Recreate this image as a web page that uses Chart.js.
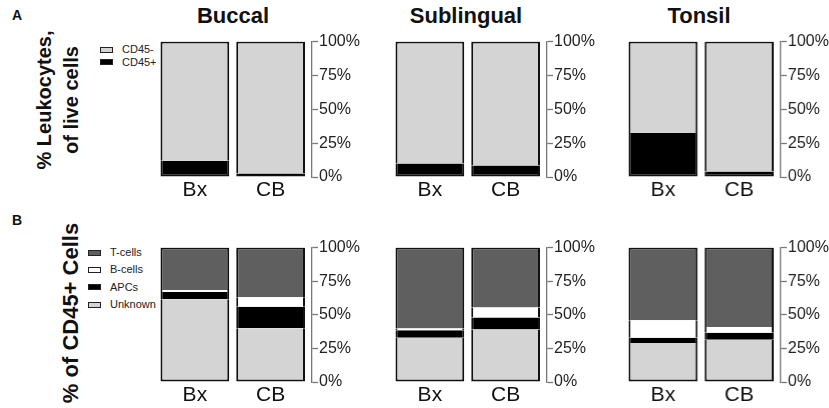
<!DOCTYPE html>
<html>
<head>
<meta charset="utf-8">
<script src="https://cdn.jsdelivr.net/npm/chart.js@4.4.0/dist/chart.umd.min.js"></script>
<style>
  html, body { margin: 0; padding: 0; background: #fff; }
  body { width: 829px; height: 408px; position: relative; overflow: hidden;
         font-family: "Liberation Sans", Arial, sans-serif; color: #111; }
  .abs { position: absolute; white-space: nowrap; }
  canvas { position: absolute; }
  .title { font-weight: bold; font-size: 22px; transform: translateX(-50%); }
  .panel { font-weight: bold; font-size: 14px; }
  .ytitle { font-weight: bold; text-align: center; transform: translate(-50%, -50%) rotate(-90deg); }
  .leg { font-size: 11px; line-height: 13px; display: flex; align-items: center; color: #222; }
  .leg .box { width: 11px; height: 4px; border: 1.5px solid #222; margin-right: 9px; }
</style>
</head>
<body>
<div class="abs panel" style="left:12px; top:7px;">A</div>
<div class="abs panel" style="left:12px; top:212px;">B</div>
<div id="titles"></div>
<div class="abs ytitle" style="left:58px; top:100px; font-size:20px; line-height:27px;">% Leukocytes,<br>of live cells</div>
<div class="abs ytitle" style="left:71px; top:313px; font-size:22px;">% of CD45+ Cells</div>
<div id="legendA"></div>
<div id="legendB"></div>
<script>
// ---- data ----
const categories = ['Bx', 'CB'];
const sites = ['Buccal', 'Sublingual', 'Tonsil'];
const yTicks = [0, 25, 50, 75, 100];
const seriesA = ['CD45-', 'CD45+'];
const seriesB = ['T-cells', 'B-cells', 'APCs', 'Unknown'];

// Panel A: % leukocytes of live cells
const buccalCD45pos = [12, 2.5];
const buccalCD45neg = [88, 97.5];
const sublingualCD45pos = [10, 8.5];
const sublingualCD45neg = [90, 91.5];
const tonsilCD45pos = [32.5, 4];
const tonsilCD45neg = [67.5, 96];

// Panel B: % of CD45+ cells
const buccalUnknown = [61.5, 40];
const buccalAPCs = [5.5, 16];
const buccalBcells = [1.5, 7];
const buccalTcells = [31.5, 37];
const sublingualUnknown = [33, 39];
const sublingualAPCs = [5.5, 9];
const sublingualBcells = [1.3, 7.5];
const sublingualTcells = [60.2, 44.5];
const tonsilUnknown = [29, 31.5];
const tonsilAPCs = [4, 5.2];
const tonsilBcells = [13, 4.3];
const tonsilTcells = [54, 59];

// ---- styles ----
const colA = { 'CD45-': '#d4d4d4', 'CD45+': '#000000' };
const colB = { 'T-cells': '#5f5f5f', 'B-cells': '#ffffff', 'APCs': '#000000', 'Unknown': '#d4d4d4' };
const colLefts = [156.5, 391.5, 625];
const rows = [{ top: 41, h: 136 }, { top: 247, h: 135 }];
const titleCenters = [233, 466, 699];
const AX_W = 52, GAP_W = 3.5, X_H = 28, PAD_T = 10, AREA_W = 152;

// titles
const titles = document.getElementById('titles');
sites.forEach((s, i) => {
  const d = document.createElement('div');
  d.className = 'abs title';
  d.style.left = titleCenters[i] + 'px';
  d.style.top = '3px';
  d.textContent = s;
  titles.appendChild(d);
});

// legends
function makeLegend(el, names, colors, x, ys) {
  names.forEach((n, i) => {
    const d = document.createElement('div');
    d.className = 'abs leg';
    d.style.left = x + 'px';
    d.style.top = (ys[i] - 6.5) + 'px';
    const b = document.createElement('span');
    b.className = 'box';
    b.style.background = colors[n];
    d.appendChild(b);
    d.appendChild(document.createTextNode(n));
    el.appendChild(d);
  });
}
makeLegend(document.getElementById('legendA'), seriesA, colA, 100, [49.5, 62]);
makeLegend(document.getElementById('legendB'), seriesB, colB, 88, [252.5, 269.5, 287, 304.5]);

function bw(pos) {
  if (pos === 'bottom') return { left: 2, right: 2, bottom: 2, top: 0 };
  if (pos === 'top') return { left: 2, right: 2, bottom: 0, top: 2 };
  return { left: 2, right: 2, bottom: 0, top: 0 };
}

function makeChart(col, row, stack) {
  const c = document.createElement('canvas');
  const r = rows[row];
  const w = AREA_W + GAP_W + AX_W, h = PAD_T + r.h + X_H;
  c.width = w; c.height = h;
  c.style.left = colLefts[col] + 'px';
  c.style.top = (r.top - PAD_T) + 'px';
  c.style.width = w + 'px'; c.style.height = h + 'px';
  document.body.appendChild(c);
  const datasets = stack.map((s, i) => ({
    label: s.label,
    data: s.data,
    xAxisID: 'x',
    yAxisID: 'y',
    backgroundColor: s.color,
    borderColor: '#111',
    borderWidth: bw(i === 0 ? 'bottom' : (i === stack.length - 1 ? 'top' : 'mid')),
    borderSkipped: false,
    categoryPercentage: 1,
    barPercentage: 69 / 76
  }));
  new Chart(c, {
    type: 'bar',
    data: { labels: categories, datasets },
    options: {
      responsive: false,
      animation: false,
      layout: { padding: { top: PAD_T, left: 0, right: 0, bottom: 0 } },
      plugins: { legend: { display: false }, tooltip: { enabled: false } },
      scales: {
        x: {
          stacked: true,
          grid: { display: false, drawTicks: false },
          border: { display: false },
          ticks: { font: { family: 'Liberation Sans, Arial, sans-serif', size: 21 }, color: '#111', padding: 1 },
          afterFit: s => { s.height = X_H; }
        },
        y: {
          stacked: true,
          position: 'right',
          weight: 1,
          min: 0, max: 100,
          afterBuildTicks: s => { s.ticks = yTicks.map(v => ({ value: v })); },
          ticks: { font: { family: 'Liberation Sans, Arial, sans-serif', size: 16 }, color: '#222', padding: 1,
                   callback: v => v + '%' },
          grid: { drawOnChartArea: false, drawTicks: true, tickLength: 6, color: '#777', tickWidth: 1.3 },
          border: { display: true, color: '#777', width: 1.3 },
          afterFit: s => { s.width = AX_W; }
        },
        yGap: {
          type: 'linear',
          axis: 'y',
          position: 'right',
          weight: 0,
          grid: { display: false, drawTicks: false },
          border: { display: false },
          ticks: { display: false },
          afterFit: s => { s.width = GAP_W; }
        }
      }
    }
  });
}

const dataA = [[buccalCD45pos, buccalCD45neg], [sublingualCD45pos, sublingualCD45neg], [tonsilCD45pos, tonsilCD45neg]];
const dataB = [
  [buccalUnknown, buccalAPCs, buccalBcells, buccalTcells],
  [sublingualUnknown, sublingualAPCs, sublingualBcells, sublingualTcells],
  [tonsilUnknown, tonsilAPCs, tonsilBcells, tonsilTcells]
];
const orderA = ['CD45+', 'CD45-'];
const orderB = ['Unknown', 'APCs', 'B-cells', 'T-cells'];
for (let i = 0; i < 3; i++) {
  makeChart(i, 0, orderA.map((n, k) => ({ label: n, data: dataA[i][k], color: colA[n] })));
  makeChart(i, 1, orderB.map((n, k) => ({ label: n, data: dataB[i][k], color: colB[n] })));
}
</script>
</body>
</html>
